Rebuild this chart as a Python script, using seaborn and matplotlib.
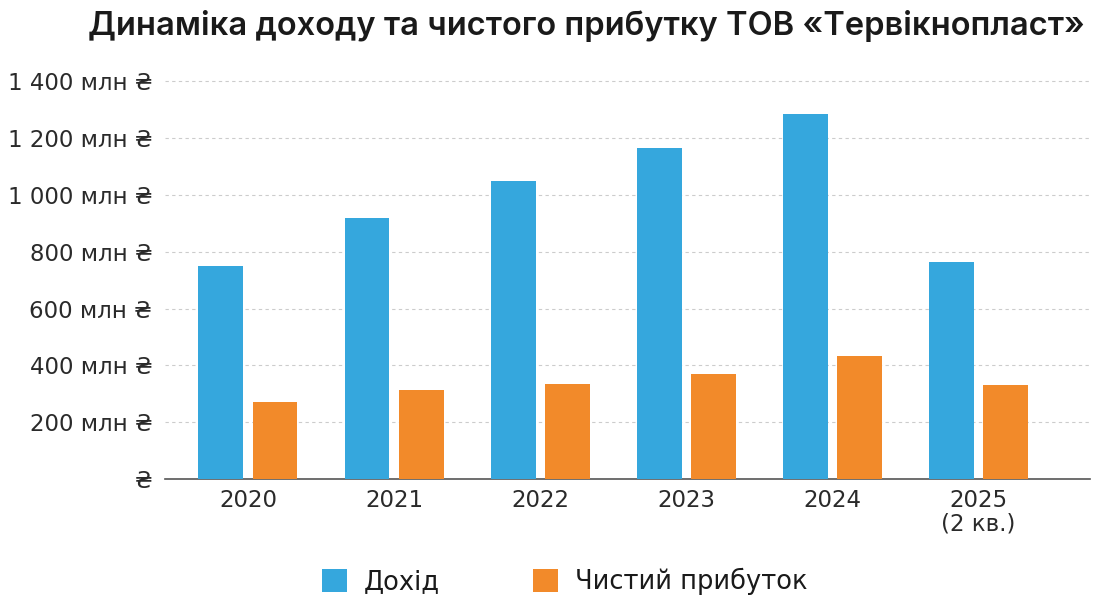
import matplotlib
matplotlib.use("Agg")
import matplotlib.pyplot as plt
import seaborn as sns
import pandas as pd
from matplotlib.patches import Patch

years = ["2020", "2021", "2022", "2023", "2024", "2025\n(2 кв.)"]
revenue = [748, 920, 1049, 1165, 1283, 762]
net_profit = [272, 314, 335, 369, 434, 330]
series_names = ["Дохід", "Чистий прибуток"]
y_ticks = [0, 200, 400, 600, 800, 1000, 1200, 1400]
y_tick_labels = ["₴", "200 млн ₴", "400 млн ₴", "600 млн ₴", "800 млн ₴",
                 "1 000 млн ₴", "1 200 млн ₴", "1 400 млн ₴"]
title = "Динаміка доходу та чистого прибутку ТОВ «Тервікнопласт»"

colors = ["#35A7DD", "#F28A2A"]

df = pd.DataFrame({
    "year": years * 2,
    "value": revenue + net_profit,
    "series": [series_names[0]] * len(years) + [series_names[1]] * len(years),
})

sns.set_theme(style="white")
plt.rcParams['font.family'] = ['DejaVu Sans']

fig = plt.figure(figsize=(11.05, 5.96), dpi=100)
ax = fig.add_axes([0.149, 0.196, 0.837, 0.692])

sns.barplot(data=df, x="year", y="value", hue="series", palette=colors,
            width=0.74, gap=0.17, ax=ax, legend=False, zorder=3,
            saturation=1, linewidth=0, edgecolor="none")

ax.set_xlim(-0.57, 5.76)
ax.set_ylim(0, 1450)
ax.set_yticks(y_ticks)
ax.set_yticklabels(y_tick_labels)
ax.set_xlabel("")
ax.set_ylabel("")
for s in ["top", "right", "left"]:
    ax.spines[s].set_visible(False)
ax.spines["bottom"].set_color("#555555")
ax.spines["bottom"].set_linewidth(1.2)
ax.tick_params(axis="y", length=0, pad=9, labelsize=16.5, labelcolor="#2a2a2a")
ax.tick_params(axis="x", length=0, pad=7, labelsize=16.5, labelcolor="#2a2a2a")
for lab in ax.get_xticklabels():
    lab.set_linespacing(1.05)
ax.yaxis.grid(True, linestyle=(0, (3, 3)), color="#cccccc", linewidth=0.8, zorder=0)
ax.xaxis.grid(False)
ax.set_axisbelow(True)
ax.get_ygridlines()[0].set_visible(False)

fig.text(0.531, 0.957, title, ha="center", va="center", fontsize=23.5,
         fontweight="semibold", color="#1a1a1a", family=['Inter', 'DejaVu Sans'])

handles = [Patch(facecolor=c, edgecolor="none") for c in colors]
fig.legend(handles, series_names, loc="center", bbox_to_anchor=(0.511, 0.024),
           ncol=2, frameon=False, fontsize=18.5, handlelength=1.0, handleheight=1.0,
           columnspacing=3.6, handletextpad=0.65, labelcolor="#1a1a1a",
           borderpad=0.2)

fig.savefig("out.png", dpi=100, facecolor="white")
